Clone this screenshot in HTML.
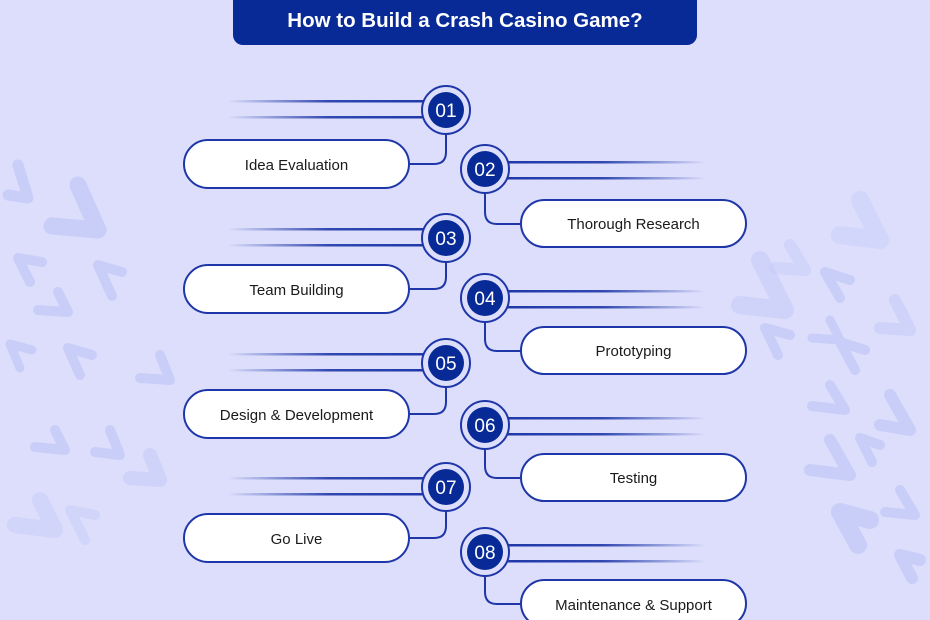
<!DOCTYPE html>
<html><head><meta charset="utf-8"><style>
html,body{margin:0;padding:0;background:#dcdefb;}
svg{display:block;}
text{font-family:"Liberation Sans",sans-serif;}
</style></head><body>
<svg width="930" height="620" viewBox="0 0 930 620" xmlns="http://www.w3.org/2000/svg">
<defs>
<linearGradient id="gl" x1="0" x2="1" y1="0" y2="0"><stop offset="0" stop-color="#1e36a8" stop-opacity="0"/><stop offset="0.5" stop-color="#1e36a8" stop-opacity="0.9"/><stop offset="1" stop-color="#1e36a8"/></linearGradient>
<linearGradient id="gr" x1="0" x2="1" y1="0" y2="0"><stop offset="0" stop-color="#1e36a8"/><stop offset="0.5" stop-color="#1e36a8" stop-opacity="0.9"/><stop offset="1" stop-color="#1e36a8" stop-opacity="0"/></linearGradient>
</defs>
<rect width="930" height="620" fill="#dcdefb"/>
<g fill="none" stroke="#c6cbf8" stroke-linecap="round" stroke-linejoin="round" opacity="0.85">
<polyline points="18,165 28,198 8,195" stroke-width="11"/>
<polyline points="78,185 98,230 52,226" stroke-width="17"/>
<polyline points="42,262 18,258 30,282" stroke-width="10"/>
<polyline points="122,272 98,265 112,296" stroke-width="10"/>
<polyline points="58,292 68,312 38,310" stroke-width="10"/>
<polyline points="32,350 10,344 20,368" stroke-width="9"/>
<polyline points="92,355 68,348 80,375" stroke-width="10"/>
<polyline points="160,355 170,380 140,378" stroke-width="10"/>
<polyline points="55,430 65,450 35,447" stroke-width="10"/>
<polyline points="110,430 120,455 95,452" stroke-width="10"/>
<polyline points="150,455 160,480 130,478" stroke-width="14" opacity="0.7"/>
<polyline points="40,500 55,530 15,525" stroke-width="16" opacity="0.6"/>
<polyline points="95,515 70,510 85,540" stroke-width="10" opacity="0.6"/>
<polyline points="790,245 805,270 775,268" stroke-width="12" opacity="0.6"/>
<polyline points="860,200 880,240 840,235" stroke-width="18" opacity="0.5"/>
<polyline points="760,260 785,310 740,305" stroke-width="18" opacity="0.7"/>
<polyline points="850,280 825,272 840,298" stroke-width="10"/>
<polyline points="830,320 840,340 812,338" stroke-width="9"/>
<polyline points="895,300 910,330 880,328" stroke-width="12" opacity="0.7"/>
<polyline points="790,335 765,328 778,355" stroke-width="10"/>
<polyline points="865,350 840,342 855,370" stroke-width="10"/>
<polyline points="830,385 845,410 812,406" stroke-width="10"/>
<polyline points="890,395 910,430 880,425" stroke-width="12"/>
<polyline points="830,440 850,475 810,470" stroke-width="12"/>
<polyline points="880,445 860,438 872,462" stroke-width="10"/>
<polyline points="900,490 915,515 885,512" stroke-width="10"/>
<polyline points="870,520 840,512 858,545" stroke-width="18"/>
<polyline points="920,560 900,555 912,578" stroke-width="12"/>
</g>
<rect x="233" y="-12" width="464" height="57" rx="10" fill="#082a96"/>
<text x="465" y="27" text-anchor="middle" font-size="20.5" font-weight="bold" fill="#fff">How to Build a Crash Casino Game?</text>
<g>
<!-- left lines -->
<rect x="228" y="100" width="202" height="2.5" fill="url(#gl)"/>
<rect x="228" y="116" width="202" height="2.5" fill="url(#gl)"/>
<rect x="228" y="228" width="202" height="2.5" fill="url(#gl)"/>
<rect x="228" y="244" width="202" height="2.5" fill="url(#gl)"/>
<rect x="228" y="353" width="202" height="2.5" fill="url(#gl)"/>
<rect x="228" y="369" width="202" height="2.5" fill="url(#gl)"/>
<rect x="228" y="477" width="202" height="2.5" fill="url(#gl)"/>
<rect x="228" y="493" width="202" height="2.5" fill="url(#gl)"/>
<!-- right lines -->
<rect x="500" y="161" width="205" height="2.5" fill="url(#gr)"/>
<rect x="500" y="177" width="205" height="2.5" fill="url(#gr)"/>
<rect x="500" y="290" width="205" height="2.5" fill="url(#gr)"/>
<rect x="500" y="306" width="205" height="2.5" fill="url(#gr)"/>
<rect x="500" y="417" width="205" height="2.5" fill="url(#gr)"/>
<rect x="500" y="433" width="205" height="2.5" fill="url(#gr)"/>
<rect x="500" y="544" width="205" height="2.5" fill="url(#gr)"/>
<rect x="500" y="560" width="205" height="2.5" fill="url(#gr)"/>
</g>
<g fill="none">
<g>
<path d="M446 134 V152 Q446 164 434 164 H409" stroke="#1e36a8" stroke-width="2"/>
<rect x="184" y="140" width="225" height="48" rx="24" fill="#fff" stroke="#1e36a8" stroke-width="2"/>
<circle cx="446" cy="110" r="24" fill="#dcdefb" stroke="#1e36a8" stroke-width="2"/>
<circle cx="446" cy="110" r="18" fill="#082a96"/>
<text x="446" y="117" text-anchor="middle" font-size="19" fill="#fff">01</text>
<text x="296.5" y="170" text-anchor="middle" font-size="15" fill="#1a1a1a">Idea Evaluation</text>
</g>
<g>
<path d="M446 262 V277 Q446 289 434 289 H409" stroke="#1e36a8" stroke-width="2"/>
<rect x="184" y="265" width="225" height="48" rx="24" fill="#fff" stroke="#1e36a8" stroke-width="2"/>
<circle cx="446" cy="238" r="24" fill="#dcdefb" stroke="#1e36a8" stroke-width="2"/>
<circle cx="446" cy="238" r="18" fill="#082a96"/>
<text x="446" y="245" text-anchor="middle" font-size="19" fill="#fff">03</text>
<text x="296.5" y="295" text-anchor="middle" font-size="15" fill="#1a1a1a">Team Building</text>
</g>
<g>
<path d="M446 387 V402 Q446 414 434 414 H409" stroke="#1e36a8" stroke-width="2"/>
<rect x="184" y="390" width="225" height="48" rx="24" fill="#fff" stroke="#1e36a8" stroke-width="2"/>
<circle cx="446" cy="363" r="24" fill="#dcdefb" stroke="#1e36a8" stroke-width="2"/>
<circle cx="446" cy="363" r="18" fill="#082a96"/>
<text x="446" y="370" text-anchor="middle" font-size="19" fill="#fff">05</text>
<text x="296.5" y="420" text-anchor="middle" font-size="15" fill="#1a1a1a">Design &amp; Development</text>
</g>
<g>
<path d="M446 511 V526 Q446 538 434 538 H409" stroke="#1e36a8" stroke-width="2"/>
<rect x="184" y="514" width="225" height="48" rx="24" fill="#fff" stroke="#1e36a8" stroke-width="2"/>
<circle cx="446" cy="487" r="24" fill="#dcdefb" stroke="#1e36a8" stroke-width="2"/>
<circle cx="446" cy="487" r="18" fill="#082a96"/>
<text x="446" y="494" text-anchor="middle" font-size="19" fill="#fff">07</text>
<text x="296.5" y="544" text-anchor="middle" font-size="15" fill="#1a1a1a">Go Live</text>
</g>
<g>
<path d="M485 193 V212 Q485 224 497 224 H521" stroke="#1e36a8" stroke-width="2"/>
<rect x="521" y="200" width="225" height="47" rx="23.5" fill="#fff" stroke="#1e36a8" stroke-width="2"/>
<circle cx="485" cy="169" r="24" fill="#dcdefb" stroke="#1e36a8" stroke-width="2"/>
<circle cx="485" cy="169" r="18" fill="#082a96"/>
<text x="485" y="176" text-anchor="middle" font-size="19" fill="#fff">02</text>
<text x="633.5" y="229" text-anchor="middle" font-size="15" fill="#1a1a1a">Thorough Research</text>
</g>
<g>
<path d="M485 322 V339 Q485 351 497 351 H521" stroke="#1e36a8" stroke-width="2"/>
<rect x="521" y="327" width="225" height="47" rx="23.5" fill="#fff" stroke="#1e36a8" stroke-width="2"/>
<circle cx="485" cy="298" r="24" fill="#dcdefb" stroke="#1e36a8" stroke-width="2"/>
<circle cx="485" cy="298" r="18" fill="#082a96"/>
<text x="485" y="305" text-anchor="middle" font-size="19" fill="#fff">04</text>
<text x="633.5" y="356" text-anchor="middle" font-size="15" fill="#1a1a1a">Prototyping</text>
</g>
<g>
<path d="M485 449 V466 Q485 478 497 478 H521" stroke="#1e36a8" stroke-width="2"/>
<rect x="521" y="454" width="225" height="47" rx="23.5" fill="#fff" stroke="#1e36a8" stroke-width="2"/>
<circle cx="485" cy="425" r="24" fill="#dcdefb" stroke="#1e36a8" stroke-width="2"/>
<circle cx="485" cy="425" r="18" fill="#082a96"/>
<text x="485" y="432" text-anchor="middle" font-size="19" fill="#fff">06</text>
<text x="633.5" y="483" text-anchor="middle" font-size="15" fill="#1a1a1a">Testing</text>
</g>
<g>
<path d="M485 576 V592 Q485 604 497 604 H521" stroke="#1e36a8" stroke-width="2"/>
<rect x="521" y="580" width="225" height="47" rx="23.5" fill="#fff" stroke="#1e36a8" stroke-width="2"/>
<circle cx="485" cy="552" r="24" fill="#dcdefb" stroke="#1e36a8" stroke-width="2"/>
<circle cx="485" cy="552" r="18" fill="#082a96"/>
<text x="485" y="559" text-anchor="middle" font-size="19" fill="#fff">08</text>
<text x="633.5" y="610" text-anchor="middle" font-size="15" fill="#1a1a1a">Maintenance &amp; Support</text>
</g>
</g>
</svg>
</body></html>
